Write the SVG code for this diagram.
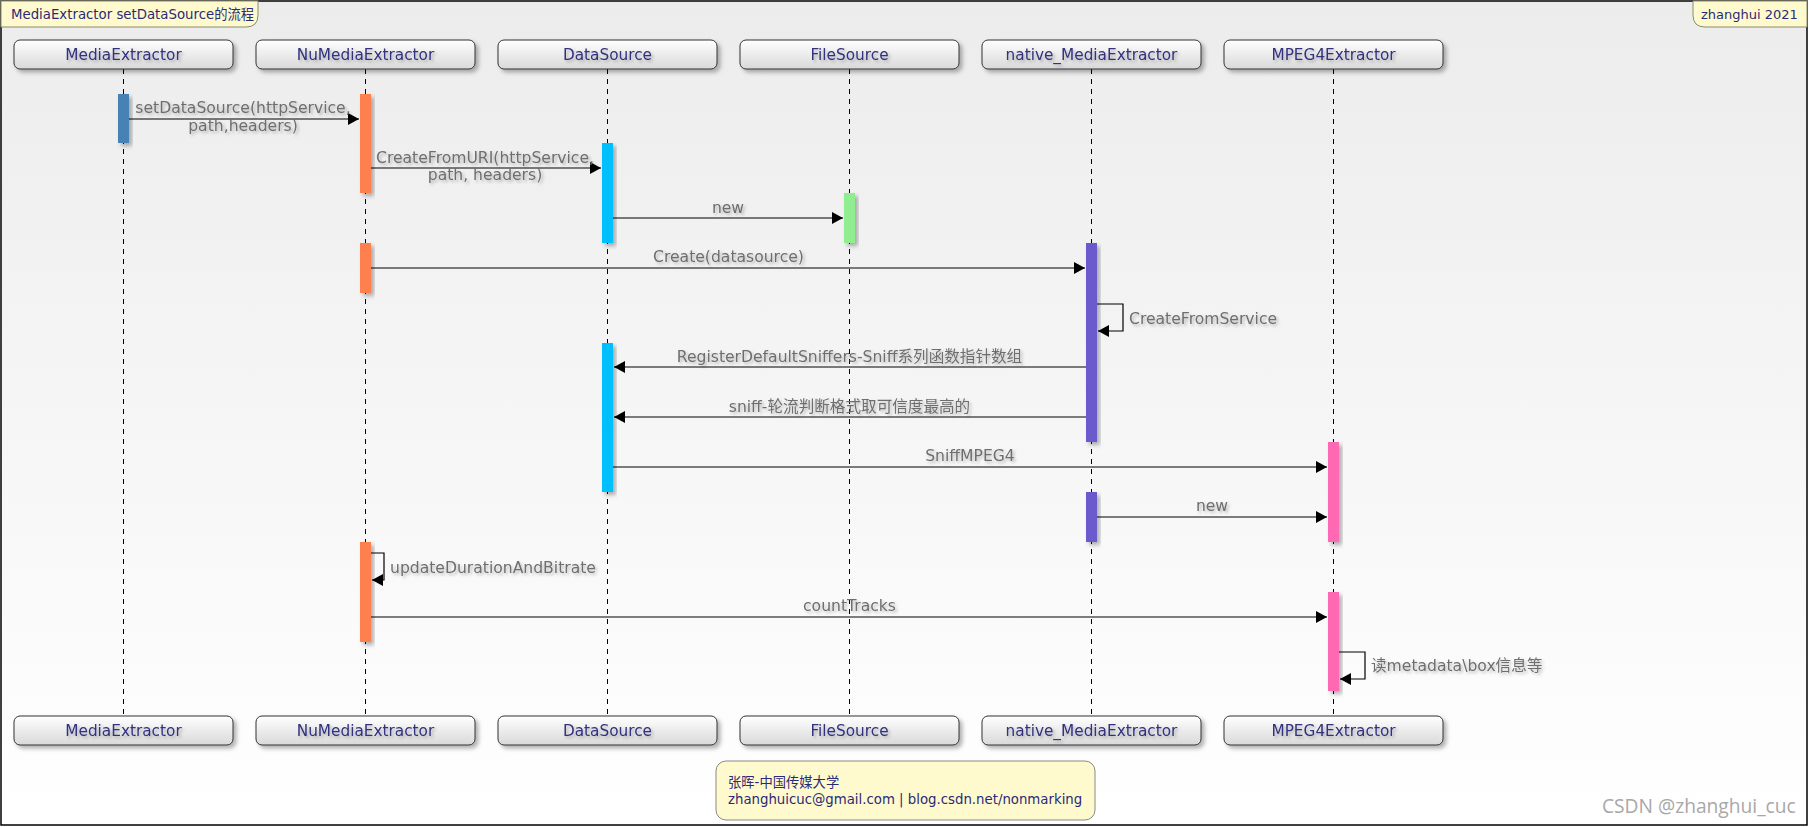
<svg xmlns="http://www.w3.org/2000/svg" width="1810" height="827" viewBox="0 0 1810 827">
<defs>
  <linearGradient id="bg" x1="0" y1="0" x2="0" y2="1">
    <stop offset="0" stop-color="#ECECEC"/>
    <stop offset="1" stop-color="#FFFFFF"/>
  </linearGradient>
  <linearGradient id="pbox" x1="0" y1="0" x2="0" y2="1">
    <stop offset="0" stop-color="#FFFFFF"/>
    <stop offset="1" stop-color="#D9D9D9"/>
  </linearGradient>
  <filter id="sh" x="-20%" y="-20%" width="150%" height="160%">
    <feDropShadow dx="3" dy="3" stdDeviation="2" flood-color="#000" flood-opacity="0.3"/>
  </filter>
  <filter id="tsh" x="-10%" y="-30%" width="120%" height="170%">
    <feDropShadow dx="2" dy="2" stdDeviation="1.5" flood-color="#000" flood-opacity="0.25"/>
  </filter>
  <marker id="arr" markerUnits="userSpaceOnUse" markerWidth="12" markerHeight="12" refX="11" refY="6" orient="auto">
    <path d="M0,0 L11,6 L0,12 Z" fill="#000"/>
  </marker>
  <style>
    .pb{fill:url(#pbox);stroke:#333;stroke-width:1;filter:url(#sh)}
    .pt{font-family:"DejaVu Sans","Noto Sans CJK SC",sans-serif;font-size:15.3px;fill:#30307E;text-anchor:middle;filter:url(#tsh)}
    .ll{stroke:#000;stroke-width:1;stroke-dasharray:5,5}
    .bar{filter:url(#sh)}
    .msg{stroke:#000;stroke-width:1.2;fill:none;marker-end:url(#arr)}
    .ml{font-family:"DejaVu Sans","Noto Sans CJK SC",sans-serif;font-size:15.6px;fill:#6E6E6E;filter:url(#tsh)}
    .c{text-anchor:middle}
    .note{font-family:"DejaVu Sans","Noto Sans CJK SC",sans-serif;font-size:13.3px;fill:#2A2A78}
  </style>
</defs>

<rect x="1" y="1" width="1806" height="824" fill="url(#bg)" stroke="#000" stroke-width="1.5"/>

<g id="title">
  <path d="M1,1 H258 V15 Q258,27 246,27 H1 Z" fill="#FFFACD" stroke="#8A8A70" stroke-width="1"/>
  <text x="11" y="19" class="note">MediaExtractor setDataSource的流程</text>
</g>
<g id="author">
  <path d="M1807,1 H1693 V15 Q1693,27 1705,27 H1807 Z" fill="#FFFACD" stroke="#8A8A70" stroke-width="1"/>
  <text x="1701" y="19" class="note" style="font-size:13px">zhanghui 2021</text>
</g>

<g id="lifelines">
  <line class="ll" x1="123.5" y1="69" x2="123.5" y2="716"/>
  <line class="ll" x1="365.5" y1="69" x2="365.5" y2="716"/>
  <line class="ll" x1="607.5" y1="69" x2="607.5" y2="716"/>
  <line class="ll" x1="849.5" y1="69" x2="849.5" y2="716"/>
  <line class="ll" x1="1091.5" y1="69" x2="1091.5" y2="716"/>
  <line class="ll" x1="1333.5" y1="69" x2="1333.5" y2="716"/>
</g>

<g id="MediaExtractor">
  <rect class="pb" x="14" y="40" width="219" height="29" rx="6"/>
  <text class="pt" x="123.5" y="60">MediaExtractor</text>
  <rect class="pb" x="14" y="716" width="219" height="29" rx="6"/>
  <text class="pt" x="123.5" y="736">MediaExtractor</text>
</g>
<g id="NuMediaExtractor">
  <rect class="pb" x="256" y="40" width="219" height="29" rx="6"/>
  <text class="pt" x="365.5" y="60">NuMediaExtractor</text>
  <rect class="pb" x="256" y="716" width="219" height="29" rx="6"/>
  <text class="pt" x="365.5" y="736">NuMediaExtractor</text>
</g>
<g id="DataSource">
  <rect class="pb" x="498" y="40" width="219" height="29" rx="6"/>
  <text class="pt" x="607.5" y="60">DataSource</text>
  <rect class="pb" x="498" y="716" width="219" height="29" rx="6"/>
  <text class="pt" x="607.5" y="736">DataSource</text>
</g>
<g id="FileSource">
  <rect class="pb" x="740" y="40" width="219" height="29" rx="6"/>
  <text class="pt" x="849.5" y="60">FileSource</text>
  <rect class="pb" x="740" y="716" width="219" height="29" rx="6"/>
  <text class="pt" x="849.5" y="736">FileSource</text>
</g>
<g id="native_MediaExtractor">
  <rect class="pb" x="982" y="40" width="219" height="29" rx="6"/>
  <text class="pt" x="1091.5" y="60">native_MediaExtractor</text>
  <rect class="pb" x="982" y="716" width="219" height="29" rx="6"/>
  <text class="pt" x="1091.5" y="736">native_MediaExtractor</text>
</g>
<g id="MPEG4Extractor">
  <rect class="pb" x="1224" y="40" width="219" height="29" rx="6"/>
  <text class="pt" x="1333.5" y="60">MPEG4Extractor</text>
  <rect class="pb" x="1224" y="716" width="219" height="29" rx="6"/>
  <text class="pt" x="1333.5" y="736">MPEG4Extractor</text>
</g>

<g id="activations">
  <rect class="bar" x="118" y="94" width="11" height="49" fill="#4682B4"/>
  <rect class="bar" x="360" y="94" width="11" height="99" fill="#FF7F50"/>
  <rect class="bar" x="602" y="143" width="11" height="100" fill="#00BFFF"/>
  <rect class="bar" x="844" y="193" width="11" height="50" fill="#90EE90"/>
  <rect class="bar" x="360" y="243" width="11" height="50" fill="#FF7F50"/>
  <rect class="bar" x="1086" y="243" width="11" height="199" fill="#6A5ACD"/>
  <rect class="bar" x="602" y="343" width="11" height="149" fill="#00BFFF"/>
  <rect class="bar" x="1328" y="442" width="11" height="100" fill="#FF69B4"/>
  <rect class="bar" x="1086" y="492" width="11" height="50" fill="#6A5ACD"/>
  <rect class="bar" x="360" y="542" width="11" height="100" fill="#FF7F50"/>
  <rect class="bar" x="1328" y="592" width="11" height="99" fill="#FF69B4"/>
</g>

<g id="connectors">
  <line class="msg" x1="129" y1="119" x2="359" y2="119"/>
  <line class="msg" x1="371" y1="168" x2="601" y2="168"/>
  <line class="msg" x1="613" y1="218" x2="843" y2="218"/>
  <line class="msg" x1="371" y1="268" x2="1085" y2="268"/>
  <path class="msg" d="M1097,304 H1123 V331 H1098"/>
  <line class="msg" x1="1086" y1="367" x2="614" y2="367"/>
  <line class="msg" x1="1086" y1="417" x2="614" y2="417"/>
  <line class="msg" x1="613" y1="467" x2="1327" y2="467"/>
  <line class="msg" x1="1097" y1="517" x2="1327" y2="517"/>
  <path class="msg" d="M371,553 H384 V580 H372"/>
  <line class="msg" x1="371" y1="617" x2="1327" y2="617"/>
  <path class="msg" d="M1339,652 H1365 V679 H1340"/>
</g>

<g id="labels">
  <text class="ml c" x="243" y="113">setDataSource(httpService,</text>
  <text class="ml c" x="243" y="131">path,headers)</text>
  <text class="ml c" x="485" y="163">CreateFromURI(httpService,</text>
  <text class="ml c" x="485" y="180">path, headers)</text>
  <text class="ml c" x="728" y="213">new</text>
  <text class="ml c" x="728.5" y="262">Create(datasource)</text>
  <text class="ml" x="1129" y="324">CreateFromService</text>
  <text class="ml c" x="849.5" y="362">RegisterDefaultSniffers-Sniff系列函数指针数组</text>
  <text class="ml c" x="849.5" y="412">sniff-轮流判断格式取可信度最高的</text>
  <text class="ml c" x="970" y="461">SniffMPEG4</text>
  <text class="ml c" x="1212" y="511">new</text>
  <text class="ml" x="390" y="573">updateDurationAndBitrate</text>
  <text class="ml c" x="849.5" y="611">countTracks</text>
  <text class="ml" x="1371" y="671">读metadata\box信息等</text>
</g>

<g id="footer">
  <rect x="716" y="761" width="379" height="59" rx="10" fill="#FFFACD" stroke="#888" stroke-width="1"/>
  <text x="728" y="787" class="note">张晖-中国传媒大学</text>
  <text x="728" y="804" class="note">zhanghuicuc@gmail.com | blog.csdn.net/nonmarking</text>
</g>

<text x="1602" y="813" font-family="'Open Sans','Noto Sans',sans-serif" font-size="19.2" fill="#A8A8A8">CSDN @zhanghui_cuc</text>
</svg>
